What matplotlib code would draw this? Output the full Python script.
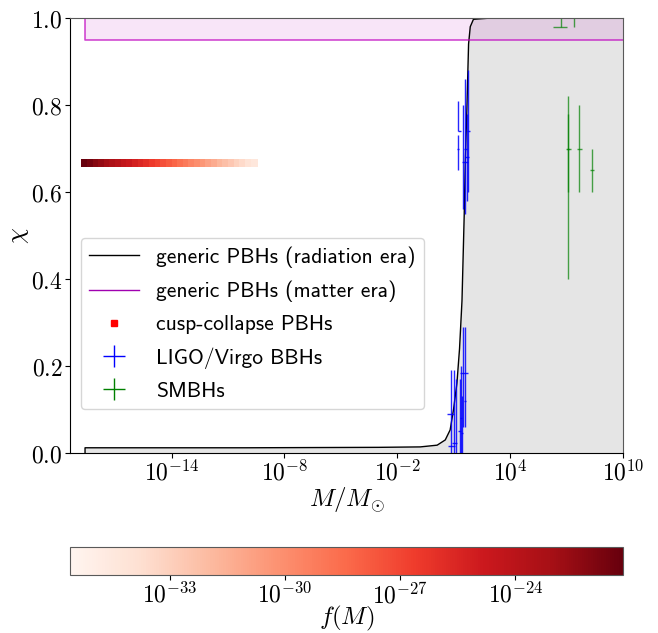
import matplotlib
matplotlib.use("Agg")
import matplotlib.pyplot as plt
import matplotlib.ticker as ticker
from matplotlib.colors import LogNorm
from matplotlib.lines import Line2D
import numpy as np

plt.rcParams['mathtext.fontset'] = 'cm'

# generic PBHs, radiation era (log10 M, chi)
rad_logM = [-18.6, -18.6, -10.0, -3.0, -0.78, 0.12, 0.55, 0.81, 0.99, 1.17, 1.31,
            1.44, 1.56, 1.62, 1.70, 1.79, 1.88, 2.05, 3.0, 10.0]
rad_chi = [0.0, 0.012, 0.012, 0.013, 0.014, 0.018, 0.03, 0.053, 0.10, 0.16, 0.24,
           0.35, 0.55, 0.68, 0.79, 0.94, 0.98, 0.997, 1.0, 1.0]

# generic PBHs, matter era band
mat_logM = [-18.6, 10.0]
mat_chi_lo = [0.95, 0.95]
mat_chi_hi = [1.0, 1.0]

# cusp-collapse PBHs
cusp_logM = [-18.6, -18.3, -18.0, -17.7, -17.4, -17.1, -16.8, -16.5, -16.2, -15.9,
             -15.6, -15.3, -15.0, -14.7, -14.4, -14.1, -13.8, -13.5, -13.2, -12.9,
             -12.6, -12.3, -12.0, -11.7, -11.4, -11.1, -10.8, -10.5, -10.2, -9.9, -9.6]
cusp_logf = [-21.2, -21.6, -22.1, -22.5, -23.0, -23.4, -23.8, -24.3, -24.7, -25.2,
             -25.6, -26.0, -26.5, -26.9, -27.4, -27.8, -28.2, -28.7, -29.1, -29.6,
             -30.0, -30.4, -30.9, -31.3, -31.8, -32.2, -32.6, -33.1, -33.5, -34.0, -34.4]
cusp_chi = 0.667

# LIGO/Virgo BBHs (log10 M with range, chi with range)
ligo_logM = [1.24, 1.22, 1.50, 1.62, 1.70, 1.78, 0.85, 0.99, 1.13, 1.31, 1.48, 1.61, 1.40, 1.45]
ligo_logM_lo = [1.22, 1.20, 1.45, 1.55, 1.62, 1.72, 0.66, 0.71, 0.92, 1.25, 1.35, 1.55, 1.35, 1.38]
ligo_logM_hi = [1.38, 1.26, 1.78, 1.72, 1.80, 1.86, 0.99, 1.08, 1.19, 1.38, 1.77, 1.66, 1.46, 1.52]
ligo_chi = [0.74, 0.70, 0.67, 0.70, 0.68, 0.74, 0.09, 0.015, 0.024, 0.05, 0.185, 0.12, 0.08, 0.046]
ligo_chi_lo = [0.74, 0.65, 0.56, 0.55, 0.58, 0.60, 0.0, 0.0, 0.0, 0.0, 0.06, 0.06, 0.0, 0.0]
ligo_chi_hi = [0.81, 0.73, 0.80, 0.86, 0.78, 0.88, 0.19, 0.19, 0.17, 0.17, 0.29, 0.29, 0.20, 0.13]

# SMBHs
smbh_logM = [7.08, 7.05, 7.67, 8.36, 6.70, 7.40]
smbh_logM_lo = [7.04, 6.97, 7.54, 8.25, 6.28, 7.38]
smbh_logM_hi = [7.12, 7.24, 7.81, 8.46, 7.03, 7.42]
smbh_chi = [0.70, 0.70, 0.70, 0.65, 0.98, 0.99]
smbh_chi_lo = [0.40, 0.60, 0.60, 0.60, 0.98, 0.98]
smbh_chi_hi = [0.82, 0.78, 0.80, 0.70, 1.0, 1.0]

xticks = [-14, -8, -2, 4, 10]
cticks = [-33, -30, -27, -24]


def errs(logm, lo, hi, c, clo, chi):
    m = 10.0**np.array(logm)
    xe = [m - 10.0**np.array(lo), 10.0**np.array(hi) - m]
    ye = [np.array(c) - np.array(clo), np.array(chi) - np.array(c)]
    return m, np.array(c), xe, ye


fig = plt.figure(figsize=(6.58, 6.33), dpi=100)
ax = fig.add_axes([70/658, 180/633, 553/658, 435/633])

M_rad = 10.0**np.array(rad_logM)
ax.fill_between(M_rad, 0, rad_chi, color='gray', alpha=0.2, lw=0)
ax.plot(M_rad, rad_chi, color='k', lw=1)

M_mat = 10.0**np.array(mat_logM)
ax.fill_between(M_mat, mat_chi_lo, mat_chi_hi, facecolor='m', alpha=0.1, lw=0)
ax.plot([M_mat[0], M_mat[0], M_mat[1]], [mat_chi_hi[0], mat_chi_lo[0], mat_chi_lo[1]],
        color='m', alpha=0.7, lw=1.2)

norm = LogNorm(vmin=10**-35.6, vmax=10**-21.2)
sc = ax.scatter(10.0**np.array(cusp_logM), [cusp_chi]*len(cusp_logM),
                c=10.0**np.array(cusp_logf), cmap='Reds', norm=norm,
                marker='s', s=30, linewidths=0, zorder=3)

m, c, xe, ye = errs(ligo_logM, ligo_logM_lo, ligo_logM_hi, ligo_chi, ligo_chi_lo, ligo_chi_hi)
ax.errorbar(m, c, xerr=xe, yerr=ye, fmt='none', ecolor='blue', elinewidth=1, alpha=0.85)
m, c, xe, ye = errs(smbh_logM, smbh_logM_lo, smbh_logM_hi, smbh_chi, smbh_chi_lo, smbh_chi_hi)
ax.errorbar(m, c, xerr=xe, yerr=ye, fmt='none', ecolor='green', elinewidth=1, alpha=0.7)

ax.set_xscale('log')
ax.set_xlim(10**-19.4, 1e10)
ax.set_ylim(0, 1)
ax.xaxis.set_major_locator(ticker.FixedLocator([10.0**t for t in xticks]))
ax.xaxis.set_minor_locator(ticker.NullLocator())
ax.xaxis.set_major_formatter(ticker.FuncFormatter(lambda v, p: r'$10^{%d}$' % round(np.log10(v))))
ax.yaxis.set_major_locator(ticker.MultipleLocator(0.2))
ax.yaxis.set_major_formatter(ticker.FuncFormatter(lambda v, p: r'$%.1f$' % v))
ax.tick_params(labelsize=17, pad=2)
ax.set_xlabel(r'$M/M_{\odot}$', fontsize=18, labelpad=0)
ax.set_ylabel(r'$\chi$', fontsize=18, labelpad=0)
ax.spines['top'].set_color('0.35')
ax.spines['right'].set_color('0.35')

handles = [Line2D([], [], color='k', lw=1),
           Line2D([], [], color='#a000b0', lw=1),
           Line2D([], [], color='red', marker='s', ls='none', markersize=5),
           ax.errorbar([], [], xerr=[], yerr=[], fmt='none', ecolor='blue', elinewidth=1),
           ax.errorbar([], [], xerr=[], yerr=[], fmt='none', ecolor='green', elinewidth=1)]
labels = ['generic PBHs (radiation era)', 'generic PBHs (matter era)',
          'cusp-collapse PBHs', 'LIGO/Virgo BBHs', 'SMBHs']
ax.legend(handles, labels, loc='center left', bbox_to_anchor=(0.0, 0.298),
          prop={'family': 'cmss10', 'size': 15.5}, handlelength=2.3, labelspacing=0.6)

cax = fig.add_axes([70/658, 58/633, 553/658, 28/633])
cb = fig.colorbar(sc, cax=cax, orientation='horizontal')
cb.set_ticks([10.0**t for t in cticks])
cb.ax.xaxis.set_minor_locator(ticker.NullLocator())
cb.ax.xaxis.set_major_formatter(ticker.FuncFormatter(lambda v, p: r'$10^{%d}$' % round(np.log10(v))))
cb.ax.tick_params(labelsize=17, pad=2)
cb.outline.set_edgecolor('0.35')
cb.set_label(r'$f(M)$', fontsize=18, labelpad=-3)

fig.savefig('out.png', dpi=100)
